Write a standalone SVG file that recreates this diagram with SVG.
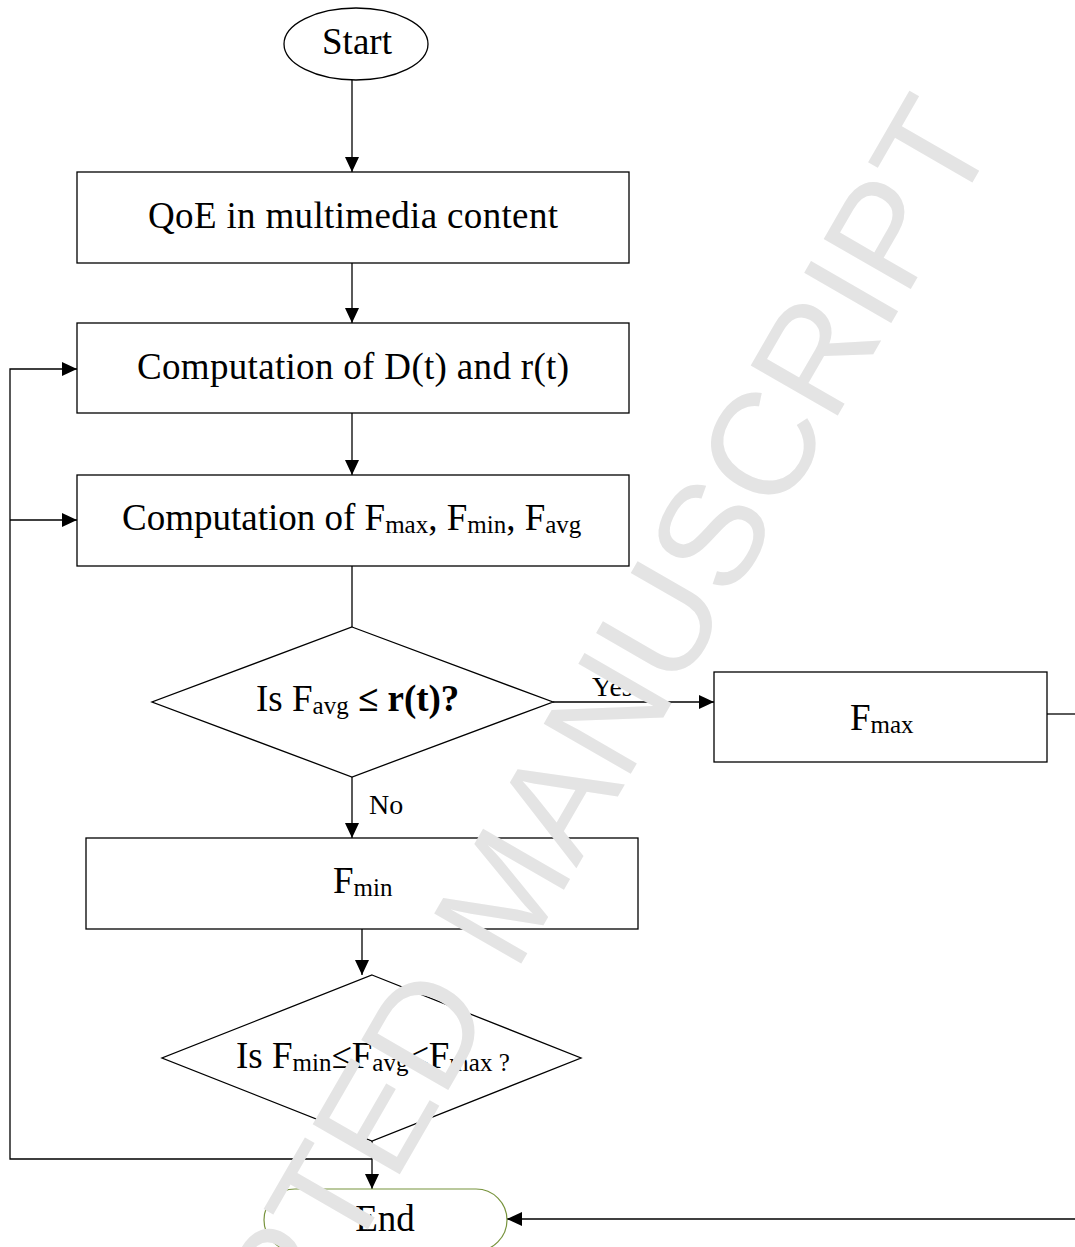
<svg xmlns="http://www.w3.org/2000/svg" width="1075" height="1247" viewBox="0 0 1075 1247">
  <style>
    .shape { fill: #fff; stroke: #000; stroke-width: 1.3; }
    .term { fill: none; stroke: #77933c; stroke-width: 1.2; }
    .edge { fill: none; stroke: #000; stroke-width: 1.3; }
    .lbl { font-family: "Liberation Serif", "Times New Roman", serif; font-size: 37px; fill: #000; }
    .sub { font-size: 25px; }
    .small { font-family: "Liberation Serif", "Times New Roman", serif; font-size: 28px; fill: #000; }
    .mark { font-family: "Liberation Sans", Arial, sans-serif; font-size: 146px; fill: #e4e4e4; }
  </style>
  <defs>
    <marker id="arrow" markerUnits="userSpaceOnUse" markerWidth="16" markerHeight="14" refX="15" refY="7" orient="auto">
      <path d="M0,0 L15,7 L0,14 Z" fill="#000"/>
    </marker>
  </defs>

  <rect width="1075" height="1247" fill="#fff"/>

  <!-- connectors -->
  <g id="connectors">
    <line class="edge" x1="352" y1="80" x2="352" y2="172" marker-end="url(#arrow)"/>
    <line class="edge" x1="352" y1="263" x2="352" y2="323" marker-end="url(#arrow)"/>
    <line class="edge" x1="352" y1="413" x2="352" y2="475" marker-end="url(#arrow)"/>
    <line class="edge" x1="352" y1="566" x2="352" y2="627"/>
    <line class="edge" x1="553" y1="702" x2="714" y2="702" marker-end="url(#arrow)"/>
    <line class="edge" x1="352" y1="777" x2="352" y2="838" marker-end="url(#arrow)"/>
    <line class="edge" x1="362" y1="929" x2="362" y2="975" marker-end="url(#arrow)"/>
    <line class="edge" x1="372" y1="1141" x2="372" y2="1189" marker-end="url(#arrow)"/>
    <!-- loop back to the computation steps -->
    <polyline class="edge" points="372,1159 10,1159 10,369 77,369" marker-end="url(#arrow)"/>
    <line class="edge" x1="10" y1="520" x2="77" y2="520" marker-end="url(#arrow)"/>
    <!-- Fmax branch runs past the right edge and returns to End -->
    <line class="edge" x1="1047" y1="714" x2="1075" y2="714"/>
    <line class="edge" x1="1075" y1="1219" x2="507" y2="1219" marker-end="url(#arrow)"/>
    <text class="small" x="592" y="696">Yes</text>
    <text class="small" x="369" y="814">No</text>
  </g>

  <g id="start">
    <ellipse class="shape" cx="356" cy="44" rx="72" ry="36"/>
    <text class="lbl" x="357" y="54" text-anchor="middle">Start</text>
  </g>

  <g id="qoe">
    <rect class="shape" x="77" y="172" width="552" height="91"/>
    <text class="lbl" x="148" y="228" textLength="410" lengthAdjust="spacing">QoE in multimedia content</text>
  </g>

  <g id="compute-d-r">
    <rect class="shape" x="77" y="323" width="552" height="90"/>
    <text class="lbl" x="137" y="379" textLength="432" lengthAdjust="spacing">Computation of D(t) and r(t)</text>
  </g>

  <g id="compute-f">
    <rect class="shape" x="77" y="475" width="552" height="91"/>
    <text class="lbl" x="122" y="530">Computation of F<tspan class="sub" dy="3">max</tspan><tspan dy="-3">, F</tspan><tspan class="sub" dy="3">min</tspan><tspan dy="-3">, F</tspan><tspan class="sub" dy="3">avg</tspan></text>
  </g>

  <g id="check-avg">
    <polygon class="shape" points="352,627 553,702 352,777 152,702"/>
    <text class="lbl" x="256" y="711">Is F<tspan class="sub" dy="3">avg</tspan><tspan dy="-3" font-weight="bold"> ≤ r(t)?</tspan></text>
  </g>

  <g id="fmax">
    <rect class="shape" x="714" y="672" width="333" height="90"/>
    <text class="lbl" x="850" y="730">F<tspan class="sub" dy="3">max</tspan></text>
  </g>

  <g id="fmin">
    <rect class="shape" x="86" y="838" width="552" height="91"/>
    <text class="lbl" x="333" y="893">F<tspan class="sub" dy="3">min</tspan></text>
  </g>

  <g id="check-range">
    <polygon class="shape" points="372,975 581,1058 372,1141 162,1058"/>
    <text class="lbl" x="236" y="1068">Is F<tspan class="sub" dy="3">min</tspan><tspan dy="-3">≤F</tspan><tspan class="sub" dy="3">avg</tspan><tspan dy="-3">≤F</tspan><tspan class="sub" dy="3">max ?</tspan></text>
  </g>

  <g id="end">
    <path class="term" d="M295,1189 H476 A31,31 0 0 1 476,1251 H295 A31,31 0 0 1 295,1189 Z" fill="#fff"/>
    <text class="lbl" x="385" y="1231" text-anchor="middle">End</text>
  </g>

  <!-- diagonal stamp over the page -->
  <text class="mark" x="998" y="138" text-anchor="end" transform="rotate(-60 998 138)">ACCEPTED MANUSCRIPT</text>
</svg>
